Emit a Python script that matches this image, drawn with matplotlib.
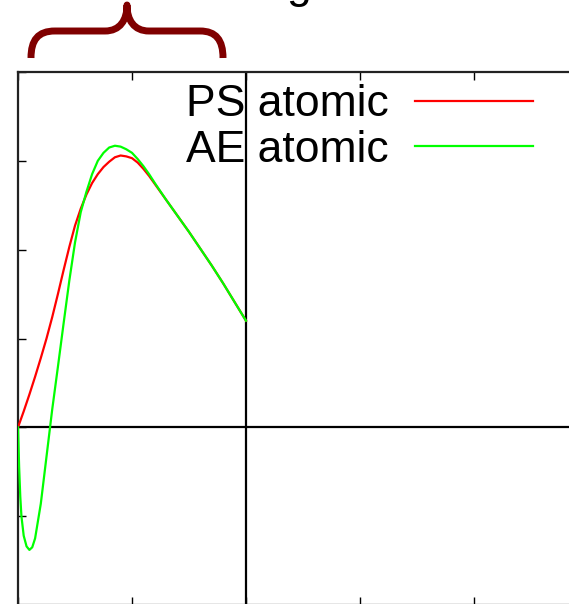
import matplotlib
matplotlib.use("Agg")
import matplotlib.pyplot as plt
from matplotlib.path import Path
from matplotlib.patches import PathPatch
from matplotlib.transforms import Affine2D

# ---- data ----
ps_r = [0.0, 0.05, 0.1, 0.15, 0.2, 0.25, 0.3, 0.35, 0.4, 0.45, 0.5, 0.55,
        0.6, 0.65, 0.7, 0.75, 0.8, 0.85, 0.9, 0.95, 1.0, 1.05, 1.1, 1.15,
        1.2, 1.3, 1.4, 1.5, 1.6, 1.7, 1.8, 1.9, 2.0]
ps_val = [0.0, 0.18, 0.37, 0.57, 0.78, 1.0, 1.24, 1.5, 1.77, 2.03, 2.27, 2.46,
          2.62, 2.75, 2.85, 2.93, 2.99, 3.04, 3.06, 3.05, 3.03, 2.98, 2.91, 2.83,
          2.74, 2.56, 2.38, 2.20, 2.01, 1.82, 1.62, 1.41, 1.20]

ae_r = [0.0, 0.01, 0.02, 0.03, 0.05, 0.075, 0.1, 0.125, 0.15, 0.2, 0.25, 0.3,
        0.35, 0.4, 0.45, 0.5, 0.55, 0.6, 0.65, 0.7, 0.75, 0.8, 0.85, 0.9, 0.95,
        1.0, 1.05, 1.1, 1.15, 1.2, 1.3, 1.4, 1.5, 1.6, 1.7, 1.8, 1.9, 2.0]
ae_val = [0.0, -0.45, -0.78, -1.0, -1.22, -1.34, -1.38, -1.35, -1.25, -0.86,
          -0.33, 0.2, 0.68, 1.17, 1.65, 2.08, 2.42, 2.65, 2.85, 3.0, 3.09, 3.15,
          3.17, 3.16, 3.13, 3.09, 3.02, 2.94, 2.85, 2.75, 2.56, 2.38, 2.20, 2.01,
          1.82, 1.62, 1.41, 1.20]

series_labels = ["PS atomic", "AE atomic"]
series_colors = ["#ff0000", "#00ff00"]
x_ticks = [0, 1, 2, 3, 4, 5]
y_ticks = [-2, -1, 0, 1, 2, 3, 4]
r_cut = 2.0

W, H = 569, 604
fig = plt.figure(figsize=(W / 100, H / 100), dpi=100)
plt.rcParams['font.family'] = ['Liberation Sans', 'DejaVu Sans']

ax = fig.add_axes([18 / W, -1 / H, 570 / W, 533 / H])
ax.set_xlim(0, 5)
ax.set_ylim(-2, 4)

ax.plot(ps_r, ps_val, color=series_colors[0], lw=1.6, label=series_labels[0],
        zorder=3, solid_joinstyle='round')
ax.plot(ae_r, ae_val, color=series_colors[1], lw=1.6, label=series_labels[1],
        zorder=4, solid_joinstyle='round')

ax.axhline(0, color='black', lw=1.6, zorder=2)
ax.axvline(r_cut, color='black', lw=1.6, zorder=2)

ax.set_xticks(x_ticks)
ax.set_yticks(y_ticks)
ax.tick_params(direction='in', length=6, width=1.0, top=True, right=True,
               labelleft=False, labelbottom=False, colors='black')
for s in ax.spines.values():
    s.set_linewidth(1.6)
    s.set_color('#222222')

leg = ax.legend(loc='upper right', bbox_to_anchor=(517 / 570, 1.0 - 10 / 533),
                frameon=False, markerfirst=False, fontsize=32,
                handlelength=2.65, handletextpad=0.6, labelspacing=0.1,
                borderaxespad=0.0, borderpad=0.05)

# partial title (only the descender of "g" is inside the picture)
fig.text(286 / W, 1 + 2 / H, "g", fontsize=32, ha='left', va='baseline')

# dark red curly brace above the plot (pixel coordinates, y downward)
verts = [(31, 58), (31, 40), (38, 31), (55, 31),
         (105, 31), (120, 31), (127, 20), (127, 5),
         (127, 20), (134, 31), (149, 31),
         (200, 31), (216, 31), (223, 40), (223, 58)]
codes = [Path.MOVETO, Path.CURVE4, Path.CURVE4, Path.CURVE4,
         Path.LINETO, Path.CURVE4, Path.CURVE4, Path.CURVE4,
         Path.CURVE4, Path.CURVE4, Path.CURVE4,
         Path.LINETO, Path.CURVE4, Path.CURVE4, Path.CURVE4]
px_tr = Affine2D().scale(1 / W, -1 / H).translate(0, 1) + fig.transFigure
brace = PathPatch(Path(verts, codes), fill=False, edgecolor='#800000', lw=5.0,
                  transform=px_tr, capstyle='butt', joinstyle='round')
fig.patches.append(brace)

fig.savefig("out.png", dpi=100)
